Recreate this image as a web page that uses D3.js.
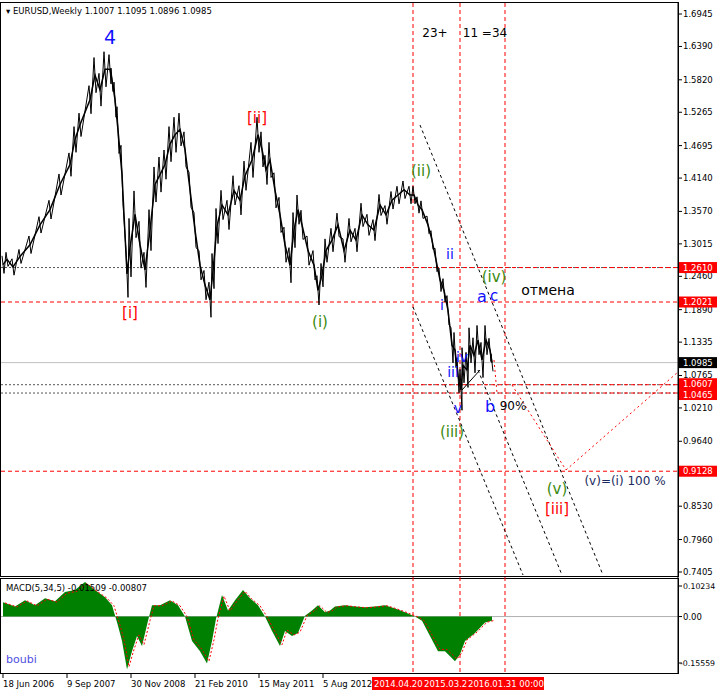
<!DOCTYPE html>
<html><head><meta charset="utf-8">
<script src="https://cdnjs.cloudflare.com/ajax/libs/d3/7.8.5/d3.min.js"></script>
<style>body{margin:0;background:#fff}text{font-family:"DejaVu Sans",sans-serif}</style>
</head><body><svg id="c"></svg>
<script>
// weeks since 18 Jun 2006 and weekly close
var weeks = [0,4,10,17,27,37,47,57,67,72,77,87,92,97,102,107,109,112,115,119,124,127,132,137,142,147,152,157,162,167,172,177,182,187,192,197,202,207,210,214,219,225,231,237,242,249,255,259,263,267,272,277,282,287,291,295,299,305,311,315,319,323,329,335,341,347,353,359,365,371,377,383,389,395,401,407,411,415,419,425,429,433,437,441,445,449,452,455,458,460,464,467,471,475,479,483,487,489];
var closes = [1.266,1.275,1.262,1.280,1.300,1.334,1.360,1.403,1.437,1.480,1.505,1.548,1.590,1.565,1.600,1.600,1.582,1.548,1.496,1.420,1.250,1.295,1.352,1.300,1.257,1.325,1.403,1.420,1.437,1.472,1.488,1.497,1.463,1.394,1.325,1.265,1.231,1.206,1.255,1.332,1.368,1.351,1.393,1.376,1.418,1.445,1.488,1.463,1.428,1.445,1.393,1.351,1.300,1.265,1.325,1.360,1.334,1.290,1.265,1.222,1.248,1.290,1.308,1.334,1.290,1.325,1.308,1.351,1.334,1.325,1.368,1.351,1.376,1.385,1.394,1.385,1.385,1.368,1.360,1.334,1.308,1.274,1.240,1.222,1.188,1.128,1.120,1.077,1.052,1.094,1.086,1.128,1.111,1.137,1.103,1.137,1.120,1.0985];
// approximate weekly range around each close (jagged bars)
var spans = [0.015,0.012,0.014,0.012,0.015,0.014,0.016,0.018,0.02,0.022,0.02,0.024,0.03,0.028,0.03,0.025,0.02,0.03,0.04,0.05,0.04,0.05,0.04,0.04,0.03,0.035,0.03,0.03,0.025,0.03,0.03,0.028,0.03,0.03,0.03,0.025,0.025,0.03,0.03,0.03,0.025,0.025,0.025,0.025,0.025,0.03,0.03,0.03,0.025,0.03,0.03,0.03,0.03,0.03,0.03,0.025,0.025,0.025,0.025,0.025,0.02,0.02,0.02,0.02,0.02,0.02,0.02,0.02,0.018,0.018,0.018,0.016,0.015,0.015,0.015,0.015,0.015,0.014,0.015,0.015,0.016,0.02,0.02,0.02,0.025,0.03,0.03,0.03,0.035,0.03,0.03,0.03,0.03,0.025,0.03,0.025,0.02,0.015];
var macdWeeks = [0,12,22,32,42,52,62,72,82,92,102,109,115,119,124,129,134,139,145,149,157,167,175,182,189,197,204,209,213,219,225,232,240,247,255,262,269,277,282,289,295,302,309,315,322,327,332,342,352,362,372,382,392,402,412,419,427,435,442,447,452,457,462,472,482,489];
var macdVals = [0.048,0.034,0.055,0.038,0.061,0.051,0.082,0.089,0.116,0.089,0.065,0.038,-0.031,-0.082,-0.177,-0.116,-0.065,-0.099,-0.014,0.038,0.038,0.055,0.038,0.000,-0.082,-0.116,-0.157,-0.082,-0.007,0.072,0.020,0.055,0.089,0.061,0.038,0.000,-0.048,-0.099,-0.048,-0.065,-0.055,0.003,0.020,0.038,0.014,0.020,0.034,0.038,0.034,0.031,0.034,0.038,0.027,0.014,0.000,-0.014,-0.065,-0.116,-0.116,-0.133,-0.150,-0.126,-0.082,-0.055,-0.020,-0.014];
var priceTicks = [1.6945,1.6390,1.5820,1.5265,1.4695,1.4140,1.3570,1.3015,1.2460,1.1890,1.1335,1.0765,1.0210,0.9640,0.8530,0.7960,0.7405];
var dateLabels = ["18 Jun 2006","9 Sep 2007","30 Nov 2008","21 Feb 2010","15 May 2011","5 Aug 2012"];
var dateWeeks = [0,64,128,192,256,320];
var redDates = ["2014.04.20","2015.03.2","2016.01.31 00:00"];
var redWeeks = [410,457,502];

var W = 718, H = 691, axX = 678;
var svg = d3.select("#c").attr("width", W).attr("height", H);
var x = d3.scaleLinear().domain([0, 675]).range([3, 678]);
var y = d3.scaleLinear().domain([0.7405, 1.6945]).range([572, 14]);
var ym = d3.scaleLinear().domain([-0.15559, 0.10234]).range([663, 586]);

svg.append("rect").attr("x",0.5).attr("y",2.5).attr("width",axX).attr("height",574).attr("fill","none").attr("stroke","#000");
svg.append("rect").attr("x",0.5).attr("y",578.5).attr("width",axX).attr("height",95).attr("fill","none").attr("stroke","#000");

// horizontal levels
svg.append("line").attr("x1",1).attr("x2",axX).attr("y1",y(1.0985)).attr("y2",y(1.0985)).attr("stroke","#c0c0c0");
[1.2610,1.0607,1.0465].forEach(function(v){
  svg.append("line").attr("x1",1).attr("x2",axX).attr("y1",y(v)).attr("y2",y(v)).attr("stroke","#555").attr("stroke-dasharray","2,2");
  svg.append("line").attr("x1",400).attr("x2",axX).attr("y1",y(v)).attr("y2",y(v)).attr("stroke","red").attr("stroke-dasharray","4,3");
});
[1.2021,0.9128].forEach(function(v){
  svg.append("line").attr("x1",1).attr("x2",axX).attr("y1",y(v)).attr("y2",y(v)).attr("stroke","red").attr("stroke-dasharray","4,3");
});
redWeeks.forEach(function(w){
  svg.append("line").attr("x1",x(w)).attr("x2",x(w)).attr("y1",3).attr("y2",673).attr("stroke","red").attr("stroke-dasharray","4,3");
});
function seg(a,b,c,d,col,dash,wd){svg.append("line").attr("x1",a).attr("y1",b).attr("x2",c).attr("y2",d).attr("stroke",col).attr("stroke-dasharray",dash).attr("stroke-width",wd||1);}
seg(420,125,603,575,"#000","3,3");
seg(413,307,523,575,"#000","3,3");
seg(478,370,562,575,"#000","3,3");
seg(462,390,480,370,"#000",null);
seg(494,360,497,393,"red","2,3");
seg(512,385,566,470,"red","2,3");
seg(566,470,678,372,"red","2,3");

// price: zig-zag through each week's high and low, plus close line
var zz = [];
weeks.forEach(function(w,i){
  zz.push([w-1, closes[i] + spans[i]]);
  zz.push([w+1, closes[i] - spans[i]]);
});
svg.append("path").datum(zz)
  .attr("d", d3.line().x(function(d){return x(d[0]);}).y(function(d){return y(d[1]);}))
  .attr("fill","none").attr("stroke","#000").attr("stroke-width",1);
svg.append("path").datum(weeks.map(function(w,i){return [w,closes[i]];}))
  .attr("d", d3.line().x(function(d){return x(d[0]);}).y(function(d){return y(d[1]);}))
  .attr("fill","none").attr("stroke","#000").attr("stroke-width",1.5);

// MACD
var md = macdWeeks.map(function(w,i){return [w,macdVals[i]];});
svg.append("line").attr("x1",1).attr("x2",axX).attr("y1",ym(0)).attr("y2",ym(0)).attr("stroke","#b0b0b0");
svg.append("path").datum(md).attr("d", d3.area().x(function(d){return x(d[0]);}).y0(ym(0)).y1(function(d){return ym(d[1]);}))
  .attr("fill","#008000");
svg.append("path").datum(md).attr("d", d3.line().x(function(d){return x(d[0]+2);}).y(function(d){return ym(d[1]*0.95);}))
  .attr("fill","none").attr("stroke","red").attr("stroke-dasharray","2,2");

// right axis
var fs = 8.5;
priceTicks.forEach(function(v){
  svg.append("line").attr("x1",axX).attr("x2",axX+4).attr("y1",y(v)).attr("y2",y(v)).attr("stroke","#000");
  svg.append("text").attr("x",683).attr("y",y(v)+3).attr("font-size",fs).text(v.toFixed(4));
});
function tag(bg,t,yy){
  svg.append("rect").attr("x",679).attr("y",yy-5.5).attr("width",38).attr("height",11).attr("fill",bg);
  svg.append("text").attr("x",683).attr("y",yy+3).attr("font-size",fs).attr("fill","#fff").text(t);
}
tag("red","1.2610",y(1.2610));
tag("red","1.2021",y(1.2021));
tag("#000","1.0985",y(1.0985));
tag("red","1.0607",y(1.0607)-1);
tag("red","1.0465",y(1.0465)+1.5);
tag("red","0.9128",y(0.9128));
[[0.10234,"0.10234"],[0,"0.00"],[-0.15559,"-0.15559"]].forEach(function(t){
  svg.append("line").attr("x1",axX).attr("x2",axX+4).attr("y1",ym(t[0])).attr("y2",ym(t[0])).attr("stroke","#000");
  svg.append("text").attr("x",t[1]=="-0.15559"?680:683).attr("y",ym(t[0])+3).attr("font-size",t[1].length>5?7.8:fs).text(t[1]);
});
svg.append("line").attr("x1",axX).attr("x2",axX).attr("y1",2).attr("y2",674).attr("stroke","#000");

// bottom axis
dateLabels.forEach(function(t,i){
  svg.append("line").attr("x1",x(dateWeeks[i])).attr("x2",x(dateWeeks[i])).attr("y1",674).attr("y2",678).attr("stroke","#000");
  svg.append("text").attr("x",x(dateWeeks[i])).attr("y",687).attr("font-size",fs).text(t);
});
svg.append("rect").attr("x",372).attr("y",677).attr("width",172).attr("height",13).attr("fill","red");
[374,424,468].forEach(function(px,i){
  svg.append("text").attr("x",px).attr("y",687).attr("font-size",fs).attr("fill","#fff").text(redDates[i]);
});

// texts
svg.append("text").attr("x",6).attr("y",14).attr("font-size",fs).text("\u25BE EURUSD,Weekly  1.1007 1.1095 1.0896 1.0985");
svg.append("text").attr("x",6).attr("y",591).attr("font-size",fs).text("MACD(5,34,5) -0.01509 -0.00807");
svg.append("text").attr("x",6).attr("y",663).attr("font-size",11).attr("font-family","DejaVu Serif").attr("fill","#5050e0").text("boubi");
function lab(px,py,t,col,sz){svg.append("text").attr("x",px).attr("y",py).attr("font-size",sz).attr("fill",col).attr("text-anchor","middle").text(t);}
var B="#1010ff", G="#3c8a10", R="red";
lab(110,44,"4",B,19);
lab(257,123,"[ii]",R,15);
lab(130,318,"[i]",R,15);
lab(320,327,"(i)",G,15);
lab(421,176,"(ii)",G,15);
lab(435,37,"23+","#000",12);
lab(485,37,"11 =34","#000",12);
lab(450,259,"ii",B,14);
lab(442,310,"i",B,14);
lab(462,362,"iv",B,14);
lab(453,377,"iii",B,14);
lab(458,413,"v",B,14);
lab(452,437,"(iii)",G,15);
lab(494,282,"(iv)",G,15);
lab(482,302,"a",B,16);
lab(494,301,"c",B,15);
lab(548,295,"отмена","#000",14);
lab(490,412,"b",B,16);
lab(513,410,"90%","#000",12);
lab(557,494,"(v)",G,15);
lab(557,514,"[iii]",R,15);
lab(625,485,"(v)=(i) 100 %","#1a2a60",12);
</script></body></html>
